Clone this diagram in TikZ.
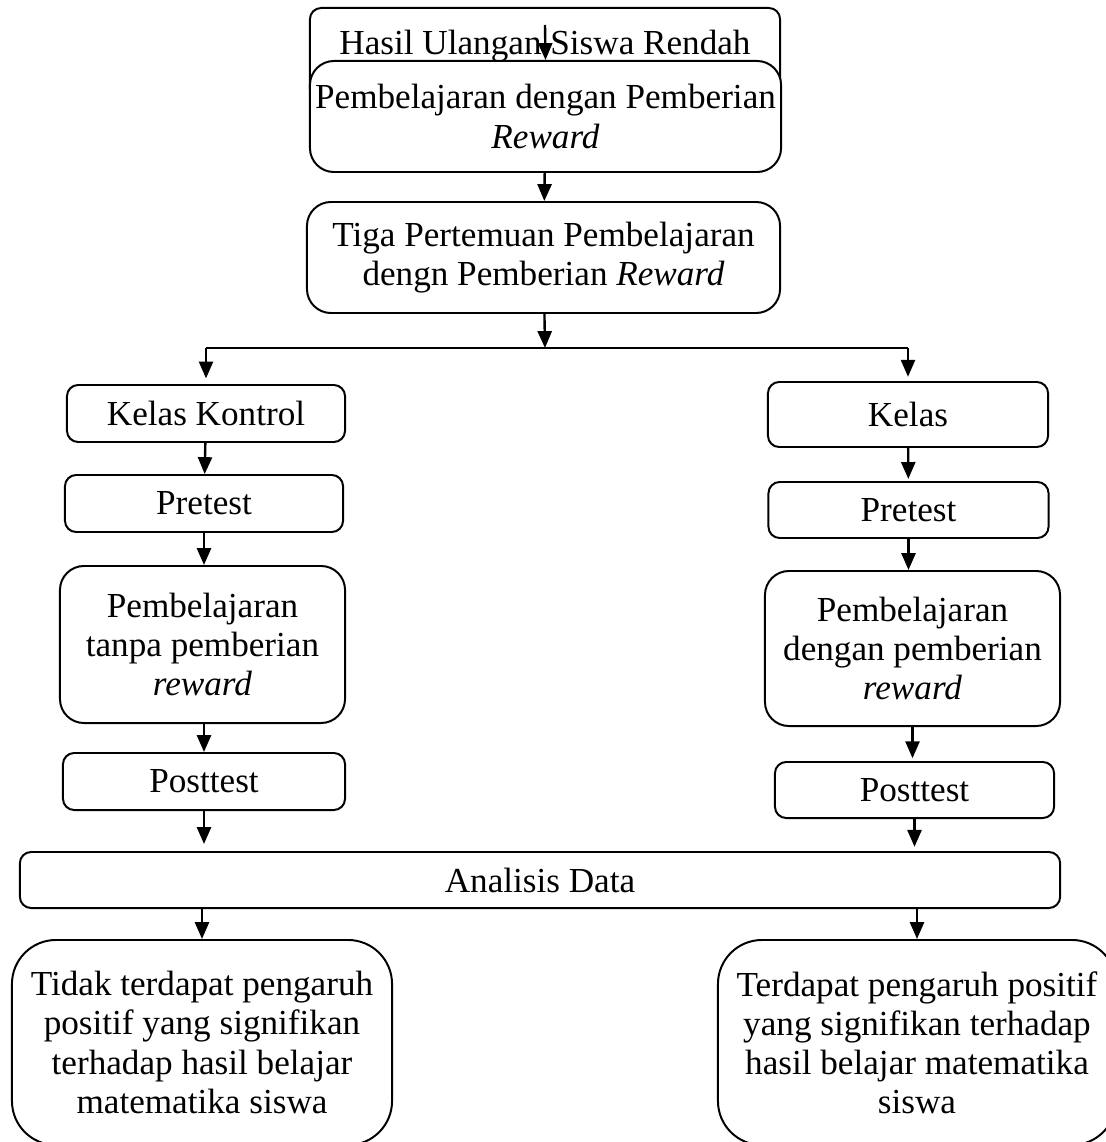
\documentclass[tikz,border=0pt]{standalone}
\usepackage{fontspec}
\setmainfont{Liberation Serif}
\usetikzlibrary{arrows.meta}
\tikzset{
  kotak/.style={draw, line width=1.4pt, rounded corners=0.28cm, fill=white, align=center, inner sep=2pt},
  kotakbesar/.style={kotak, rounded corners=0.6cm},
  kotakakhir/.style={kotak, rounded corners=1.1cm},
  panah/.style={line width=1.7pt, -{Triangle[length=12pt,width=10pt]}},
  garis/.style={line width=1.4pt}
}
\begin{document}
\begin{tikzpicture}[x=0.025cm, y=-0.025cm, font=\fontsize{25}{27.8}\selectfont]
  \useasboundingbox (0,0) rectangle (1105,1142);
  \node[kotak, minimum width=11.75cm, minimum height=2.3cm, text height=0.6cm, text depth=0.55cm] (hasil) at (545,54) {Hasil Ulangan Siswa Rendah};
  \node[kotakbesar, minimum width=11.775cm, minimum height=2.775cm] (pemb) at (545.5,116.5) {Pembelajaran dengan Pemberian\\\textit{Reward}};
  \node[kotakbesar, minimum width=11.825cm, minimum height=2.775cm] (tiga) at (543.5,257.5) {Tiga Pertemuan Pembelajaran\\dengn Pemberian \textit{Reward}};

  \node[kotak, minimum width=6.95cm, minimum height=1.425cm] (kontrol) at (206,413.5) {Kelas Kontrol};
  \node[kotak, minimum width=6.95cm, minimum height=1.425cm] (pretestA) at (204,503.5) {Pretest};
  \node[kotakbesar, minimum width=7.125cm, minimum height=3.925cm] (tanpa) at (202.5,644.5) {Pembelajaran\\tanpa pemberian\\\textit{reward}};
  \node[kotak, minimum width=7.05cm, minimum height=1.425cm] (posttestA) at (204,781.5) {Posttest};

  \node[kotak, minimum width=7cm, minimum height=1.625cm] (kelas) at (908,414.5) {Kelas};
  \node[kotak, minimum width=7cm, minimum height=1.4cm] (pretestB) at (908.5,510) {Pretest};
  \node[kotakbesar, minimum width=7.375cm, minimum height=3.875cm] (dengan) at (912.5,648.5) {Pembelajaran\\dengan pemberian\\\textit{reward}};
  \node[kotak, minimum width=6.975cm, minimum height=1.4cm] (posttestB) at (914.5,790) {Posttest};

  \node[kotak, minimum width=26cm, minimum height=1.4cm] (analisis) at (540,880) {Analisis Data};
  \node[kotakakhir, minimum width=9.5cm, minimum height=5.125cm] (tidak) at (202,1042.5) {Tidak terdapat pengaruh\\positif yang signifikan\\terhadap hasil belajar\\matematika siswa};
  \node[kotakakhir, minimum width=9.95cm, minimum height=5.125cm] (ada) at (917,1042.5) {Terdapat pengaruh positif\\yang signifikan terhadap\\hasil belajar matematika\\siswa};

  \coordinate (awal) at (545,25);
  \coordinate (cabang) at (545,348);
  \draw[panah] (awal) -- (pemb.north);
  \draw[panah] (pemb) -- (tiga);
  \draw[panah] (tiga) -- (cabang);
  \draw[garis] (cabang -| kontrol) -- (cabang -| kelas);
  \draw[panah, shorten >=4pt] (cabang -| kontrol) -- (kontrol);
  \draw[panah, shorten >=3pt] (cabang -| kelas) -- (kelas);

  \draw[panah] (kontrol) -- (pretestA);
  \draw[panah] (pretestA) -- (pretestA |- tanpa.north);
  \draw[panah] (pretestA |- tanpa.south) -- (posttestA);
  \draw[panah, shorten >=5pt] (posttestA) -- (posttestA |- analisis.north);

  \draw[panah, shorten >=1.5pt] (kelas) -- (pretestB);
  \draw[panah] (pretestB) -- (pretestB |- dengan.north);
  \draw[panah, shorten >=2pt] (dengan) -- (dengan |- posttestB.north);
  \draw[panah, shorten >=3pt] (posttestB) -- (posttestB |- analisis.north);

  \draw[panah] (analisis.south -| tidak) -- (tidak);
  \draw[panah] (analisis.south -| ada) -- (ada);
\end{tikzpicture}
\end{document}
